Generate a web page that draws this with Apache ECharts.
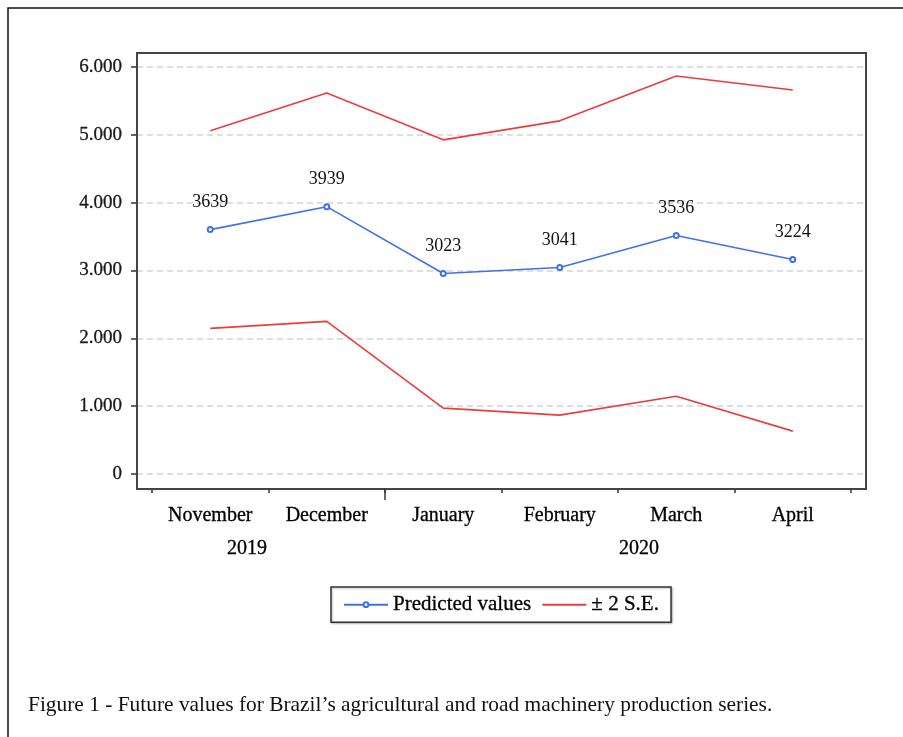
<!DOCTYPE html>
<html>
<head>
<meta charset="utf-8">
<style>html,body{margin:0;padding:0;background:#fff;}#c{width:903px;height:737px;}</style>
<script src="https://cdn.jsdelivr.net/npm/echarts@6/dist/echarts.min.js"></script>
</head>
<body>
<div id="c"></div>
<script>
var months = ['November','December','January','February','March','April'];
var years = ['2019','2020'];
var predicted = [3603, 3941, 2956, 3044, 3515, 3162];
var predictedLabels = ['3639','3939','3023','3041','3536','3224'];
var upper = [5059, 5618, 4926, 5206, 5868, 5662];
var lower = [2147, 2250, 971, 868, 1147, 632];
var yMin = 0, yMax = 6000, yStep = 1000;

var SERIF = '"Liberation Serif","Times New Roman",serif';
// plot frame extends 15px beyond the 0..6000 range at top and bottom (range spans 407px)
var pad = (yMax - yMin) * 15 / 407;
var chart = echarts.init(document.getElementById('c'), null, {renderer:'canvas'});
var option = {
  backgroundColor: '#fff',
  animation: false,
  grid: [
    {left:152, right:52, top:52, bottom:248},
    {left:137, right:37, top:67, bottom:263}
  ],
  xAxis: [
    {type:'category', gridIndex:0, data:months, boundaryGap:true, position:'bottom',
     axisLine:{show:false, onZero:false}, axisTick:{show:true, length:4, lineStyle:{color:'#333', width:1.5}},
     axisLabel:{show:true, margin:17, fontFamily:SERIF, fontSize:20, color:'#000',
       textBorderColor:'#000', textBorderWidth:0.3},
     splitLine:{show:false}},
    {type:'value', gridIndex:1, min:0, max:1, show:false}
  ],
  yAxis: [
    {type:'value', gridIndex:0, min:yMin - pad, max:yMax + pad, show:false},
    {type:'value', gridIndex:1, min:yMin, max:yMax, interval:yStep,
     axisLine:{show:false, onZero:false},
     axisTick:{show:true, length:6, lineStyle:{color:'#333', width:1.5}},
     axisLabel:{margin:15, fontFamily:SERIF, fontSize:19, color:'#1a1a1a',
       textBorderColor:'#1a1a1a', textBorderWidth:0.3,
       formatter:function(v){return v===0?'0':(v/1000)+'.000';}},
     splitLine:{show:true, lineStyle:{color:'#d4d4d4', type:[6,4], width:1.5}}}
  ],
  legend: {
    show:true, left:331, top:587, orient:'horizontal',
    data:[
      {name:'Predicted values'},
      {name:'± 2 S.E.', itemStyle:{opacity:0}}
    ],
    itemWidth:44, itemHeight:6, itemGap:10,
    padding:[7,12,7,12],
    borderColor:'#333', borderWidth:1.5, borderRadius:0,
    shadowColor:'rgba(0,0,0,0.25)', shadowBlur:2, shadowOffsetX:1, shadowOffsetY:1,
    backgroundColor:'#fff',
    textStyle:{fontFamily:SERIF, fontSize:21, color:'#000', textBorderColor:'#000', textBorderWidth:0.3}
  },
  graphic: [
    {type:'rect', z:100, shape:{x:8, y:8, width:1000, height:1000}, style:{fill:null, stroke:'#111', lineWidth:1.5}},
    {type:'rect', z:100, shape:{x:137, y:53, width:729, height:436}, style:{fill:null, stroke:'#444', lineWidth:2}},
    {type:'text', z:100, x:247, y:549, style:{text:years[0], fontFamily:SERIF, fontSize:20, fill:'#000', stroke:'#000', lineWidth:0.3, textAlign:'center', textVerticalAlign:'middle'}},
    {type:'text', z:100, x:639, y:549, style:{text:years[1], fontFamily:SERIF, fontSize:20, fill:'#000', stroke:'#000', lineWidth:0.3, textAlign:'center', textVerticalAlign:'middle'}},
    {type:'text', z:100, x:28, y:705, style:{text:'Figure 1 - Future values for Brazil\u2019s agricultural and road machinery production series.', fontFamily:SERIF, fontSize:21.4, fill:'#111', textAlign:'left', textVerticalAlign:'middle'}}
  ],
  series: [
    {name:'± 2 S.E.', type:'line', xAxisIndex:0, yAxisIndex:0, data:upper, symbol:'none',
     lineStyle:{color:'#ee3b3b', width:1.6}, itemStyle:{color:'#ee3b3b'}},
    {name:'± 2 S.E.', type:'line', xAxisIndex:0, yAxisIndex:0, data:lower, symbol:'none',
     lineStyle:{color:'#ee3b3b', width:1.6}, itemStyle:{color:'#ee3b3b'}},
    {name:'Predicted values', type:'line', xAxisIndex:0, yAxisIndex:0, data:predicted,
     symbol:'emptyCircle', symbolSize:5,
     lineStyle:{color:'#3f72ea', width:1.6}, itemStyle:{color:'#3f72ea', borderWidth:1.3},
     label:{show:true, position:'top', distance:15, fontFamily:SERIF, fontSize:18, color:'#111',
       formatter:function(p){return predictedLabels[p.dataIndex];}}}
  ]
};
chart.setOption(option);
// long year-boundary tick between December and January, placed from the axis scale
var pDec = chart.convertToPixel({xAxisIndex:0}, months[1]);
var pJan = chart.convertToPixel({xAxisIndex:0}, months[2]);
var bx = (pDec + pJan) / 2;
var g = option.graphic.slice();
g.push({type:'line', z:100, shape:{x1:bx, y1:489, x2:bx, y2:500}, style:{stroke:'#333', lineWidth:1.5}});
chart.setOption({graphic:g});
</script>
</body>
</html>
